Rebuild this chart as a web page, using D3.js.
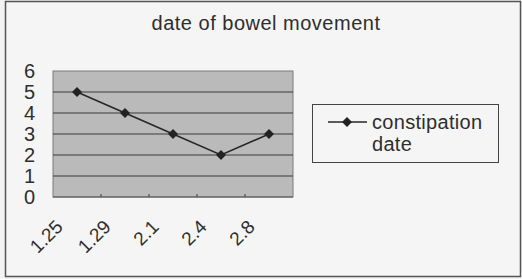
<!DOCTYPE html>
<html>
<head>
<meta charset="utf-8">
<script src="https://cdn.jsdelivr.net/npm/d3@7"></script>
<style>
  body { margin: 0; background: #f3f3f3; }
  svg { display: block; }
  text { font-family: Arial, "Liberation Sans", sans-serif; fill: #2e2e2e; }
</style>
</head>
<body>
<div id="chart"></div>
<script>
// chart data
const categories = ['1.25', '1.29', '2.1', '2.4', '2.8'];
const values = [5, 4, 3, 2, 3];
const yTicks = [0, 1, 2, 3, 4, 5, 6];
const seriesName = ['constipation', 'date'];
const chartTitle = 'date of bowel movement';

const width = 522, height = 279;
const plot = {left: 53, right: 293, top: 71, bottom: 197};

const svg = d3.select('#chart')
    .append('svg')
    .attr('width', width)
    .attr('height', height);

// outer frame
svg.append('rect')
    .attr('x', 5.5).attr('y', 1.5)
    .attr('width', 515).attr('height', 275)
    .attr('fill', '#f5f5f5')
    .attr('stroke', '#555')
    .attr('stroke-width', 1.5);

// title
svg.append('text')
    .attr('x', 266).attr('y', 30)
    .attr('text-anchor', 'middle')
    .attr('font-size', '20px')
    .attr('letter-spacing', '0.5px')
    .text(chartTitle);

const x = d3.scaleBand()
    .domain(categories)
    .range([plot.left, plot.right]);

const y = d3.scaleLinear()
    .domain([0, 6])
    .range([plot.bottom, plot.top]);

// plot area
svg.append('rect')
    .attr('x', plot.left).attr('y', plot.top)
    .attr('width', plot.right - plot.left)
    .attr('height', plot.bottom - plot.top)
    .attr('fill', '#bababa')
    .attr('stroke', '#7a7a7a')
    .attr('stroke-width', 1);

// grid lines
svg.selectAll('.grid-line')
    .data(yTicks.filter(d => d > 0 && d < 6))
    .enter()
    .append('line')
    .attr('class', 'grid-line')
    .attr('x1', plot.left).attr('x2', plot.right)
    .attr('y1', d => y(d)).attr('y2', d => y(d))
    .attr('stroke', '#3a3a3a')
    .attr('stroke-width', 1);

// y axis labels
const yAxis = svg.append('g')
    .attr('transform', `translate(${plot.left}, 0)`)
    .call(d3.axisLeft(y).tickValues(yTicks).tickFormat(d3.format('d')).tickSize(0).tickPadding(18));
yAxis.select('.domain').remove();
yAxis.selectAll('text')
    .attr('font-size', '20px')
    .attr('fill', '#2e2e2e')
    .attr('font-family', 'Arial, "Liberation Sans", sans-serif');

// x axis: small ticks at category boundaries
svg.selectAll('.x-tick')
    .data(categories.slice(1))
    .enter()
    .append('line')
    .attr('x1', d => x(d)).attr('x2', d => x(d))
    .attr('y1', plot.bottom).attr('y2', plot.bottom - 3)
    .attr('stroke', '#3a3a3a');

svg.append('line')
    .attr('x1', plot.left).attr('x2', plot.right)
    .attr('y1', plot.bottom).attr('y2', plot.bottom)
    .attr('stroke', '#555');

// x labels rotated
svg.selectAll('.x-label')
    .data(categories)
    .enter()
    .append('text')
    .attr('text-anchor', 'end')
    .attr('font-size', '19px')
    .attr('transform', d => `translate(${x(d) + x.bandwidth() / 2 - 13}, 228) rotate(-45)`)
    .text(d => d);

// series line
const line = d3.line()
    .x((d, i) => x(categories[i]) + x.bandwidth() / 2)
    .y(d => y(d));

svg.append('path')
    .datum(values)
    .attr('d', line)
    .attr('fill', 'none')
    .attr('stroke', '#262626')
    .attr('stroke-width', 1.5);

const diamond = d3.symbol().type(d3.symbolDiamond2).size(64);

svg.selectAll('.point')
    .data(values)
    .enter()
    .append('path')
    .attr('d', diamond)
    .attr('transform', (d, i) => `translate(${x(categories[i]) + x.bandwidth() / 2}, ${y(d)})`)
    .attr('fill', '#222');

// legend
const legend = svg.append('g');
legend.append('rect')
    .attr('x', 312.5).attr('y', 104.5)
    .attr('width', 186).attr('height', 58)
    .attr('fill', '#f5f5f5')
    .attr('stroke', '#444')
    .attr('stroke-width', 1);
legend.append('line')
    .attr('x1', 328).attr('x2', 367)
    .attr('y1', 122).attr('y2', 122)
    .attr('stroke', '#262626')
    .attr('stroke-width', 1.5);
legend.append('path')
    .attr('d', diamond)
    .attr('transform', 'translate(347, 122)')
    .attr('fill', '#222');
legend.selectAll('.legend-text')
    .data(seriesName)
    .enter()
    .append('text')
    .attr('x', 372)
    .attr('y', (d, i) => 129 + i * 22)
    .attr('font-size', '20px')
    .attr('letter-spacing', '0.3px')
    .text(d => d);
</script>
</body>
</html>
